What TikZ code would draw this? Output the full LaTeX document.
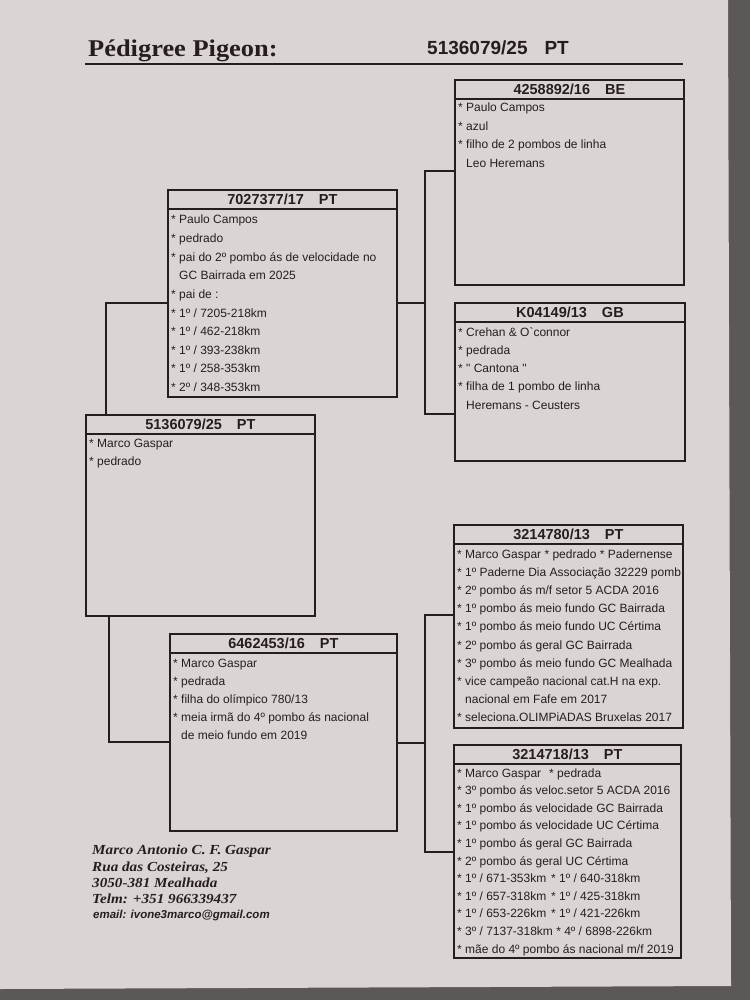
\documentclass[tikz,border=0pt]{standalone}
\usepackage{fontspec}
\newfontfamily\arialf{Liberation Sans}
\newfontfamily\titlef[FakeStretch=1.1]{Liberation Serif}
\newfontfamily\footf[FakeStretch=1.1]{Liberation Serif}
\definecolor{paper}{RGB}{218,213,211}
\definecolor{ink}{RGB}{38,30,30}
\definecolor{tablec}{RGB}{92,88,88}
\newcommand\pigbox[6]{%
  \node[pbox, minimum width={#4-#2}, minimum height={#5-#3}] (#1) at (#2,#3) {};
  \node[phead, minimum width={#4-#2}, minimum height=19] (#1h) at (#2,#3) {#6};
}
\newcommand\pigtext[5]{%
  \foreach \t [count=\i] in {#5} \node[ptxt] (#1-\i) at (#2,{#3+(\i-1)*#4}) {\t};
}
\begin{document}
\begin{tikzpicture}[x=1pt,y=-1pt,
  pbox/.style={draw=ink, line width=1.8pt, fill=paper, inner sep=0pt, anchor=north west},
  phead/.style={draw=ink, line width=1.8pt, inner sep=0pt, anchor=north west, text=ink,
    font=\arialf\bfseries\fontsize{14.5}{16}\selectfont},
  ptxt/.style={anchor=base west, inner sep=0pt, text=ink, font=\arialf\fontsize{12}{14}\selectfont},
  link/.style={draw=ink, line width=1.2pt},
  foot/.style={anchor=base west, inner sep=0pt, text=ink, font=\footf\bfseries\itshape\fontsize{13.8}{15}\selectfont}]
\useasboundingbox (0,0) rectangle (750,1000);
\fill[tablec] (0,0) rectangle (750,1000);
\fill[paper] (0,0) -- (728,0) -- (731,986) -- (0,989) -- cycle;

% title
\node[anchor=base west, inner sep=0pt, text=ink, font=\titlef\bfseries\fontsize{24}{26}\selectfont] (title) at (88,57) {Pédigree Pigeon:};
\node[anchor=base west, inner sep=0pt, text=ink, font=\arialf\bfseries\fontsize{19}{21}\selectfont] (tnum) at (427,55) {5136079/25\hspace{17pt}PT};
\draw[ink, line width=2.2pt] (85,64) -- (683,64);

% connectors
\coordinate (a1) at (106,303);
\coordinate (a2) at (109,742);
\coordinate (j1) at (425,303);
\coordinate (j1t) at (425,171);
\coordinate (j1b) at (425,414);
\coordinate (j2) at (425,743);
\coordinate (j2t) at (425,615);
\coordinate (j2b) at (425,852);

% boxes
\pigbox{ss}{454}{79}{683}{284}{4258892/16\hspace{15pt}BE}
\pigbox{sd}{454}{302}{684}{460}{K04149/13\hspace{15pt}GB}
\pigbox{s}{167}{189}{396}{396}{7027377/17\hspace{15pt}PT}
\pigbox{self}{85}{414}{314}{615}{5136079/25\hspace{15pt}PT}
\pigbox{d}{169}{633}{396}{830}{6462453/16\hspace{15pt}PT}
\pigbox{ds}{453}{524}{682}{727}{3214780/13\hspace{15pt}PT}
\pigbox{dd}{453}{744}{680}{957}{3214718/13\hspace{15pt}PT}

\draw[link] (a1 |- self.north) -- (a1) -- (a1 -| s.west);
\draw[link] (a2 |- self.south) -- (a2) -- (a2 -| d.west);
\draw[link] (j1 -| s.east) -- (j1);
\draw[link] (j1t -| ss.west) -- (j1t) -- (j1b) -- (j1b -| sd.west);
\draw[link] (j2 -| d.east) -- (j2);
\draw[link] (j2t -| ds.west) -- (j2t) -- (j2b) -- (j2b -| dd.west);

% texts
\pigtext{ss}{458}{112}{18.5}{{* Paulo Campos},{* azul},{* filho de 2 pombos de linha},{\phantom{*} Leo Heremans}}
\pigtext{sd}{458}{336}{18.3}{{* Crehan \& O\textasciigrave connor},{* pedrada},{* " Cantona "},{* filha de 1 pombo de linha},{\phantom{*} Heremans - Ceusters}}
\pigtext{s}{171}{224}{18.6}{{* Paulo Campos},{* pedrado},{* pai do 2º pombo ás de velocidade no},{\phantom{*} GC Bairrada em 2025},{* pai de :},{* 1º / 7205-218km},{* 1º / 462-218km},{* 1º / 393-238km},{* 1º / 258-353km},{* 2º / 348-353km}}
\pigtext{self}{89}{447}{18.8}{{* Marco Gaspar},{* pedrado}}
\pigtext{d}{173}{667}{18}{{* Marco Gaspar},{* pedrada},{* filha do olímpico 780/13},{* meia irmã do 4º pombo ás nacional},{\phantom{*} de meio fundo em 2019}}
\pigtext{ds}{457}{558}{18.2}{{* Marco Gaspar * pedrado * Padernense},{* 1º Paderne Dia Associação 32229 pomb},{* 2º pombo ás m/f setor 5 ACDA 2016},{* 1º pombo ás meio fundo GC Bairrada},{* 1º pombo ás meio fundo UC Cértima},{* 2º pombo ás geral GC Bairrada},{* 3º pombo ás meio fundo GC Mealhada},{* vice campeão nacional cat.H na exp.},{\phantom{*} nacional em Fafe em 2017},{* seleciona.OLIMPiADAS Bruxelas 2017}}
\pigtext{dd}{457}{777}{17.6}{{* Marco Gaspar\hspace{8pt}* pedrada},{* 3º pombo ás veloc.setor 5 ACDA 2016},{* 1º pombo ás velocidade GC Bairrada},{* 1º pombo ás velocidade UC Cértima},{* 1º pombo ás geral GC Bairrada},{* 2º pombo ás geral UC Cértima},{\makebox[94pt][l]{* 1º / 671-353km}* 1º / 640-318km},{\makebox[94pt][l]{* 1º / 657-318km}* 1º / 425-318km},{\makebox[94pt][l]{* 1º / 653-226km}* 1º / 421-226km},{* 3º / 7137-318km * 4º / 6898-226km},{* mãe do 4º pombo ás nacional m/f 2019}}

% footer
\node[foot] (f1) at (92,854) {Marco Antonio C. F. Gaspar};
\node[foot] (f2) at (92,871) {Rua das Costeiras, 25};
\node[foot] (f3) at (92,887) {3050-381 Mealhada};
\node[foot] (f4) at (92,903) {Telm: +351 966339437};
\node[anchor=base west, inner sep=0pt, text=ink, font=\arialf\bfseries\itshape\fontsize{11.5}{13}\selectfont] (f5) at (93,918) {email: ivone3marco@gmail.com};
\end{tikzpicture}
\end{document}
